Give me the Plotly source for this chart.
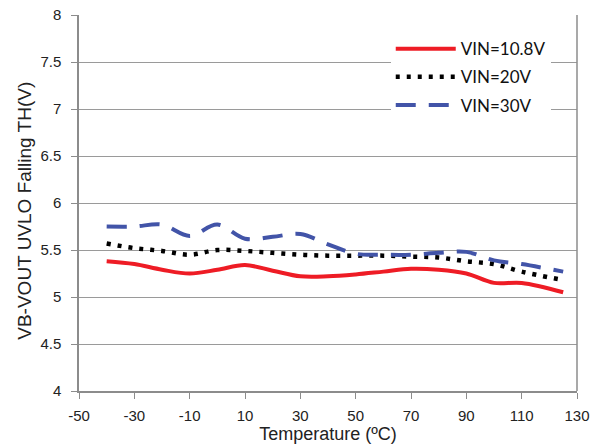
import plotly.graph_objects as go

temps = [-40, -30, -20, -10, 0, 10, 20, 30, 40, 50, 60, 70, 80, 90, 100, 110, 125]
vin_10_8 = [5.38, 5.35, 5.29, 5.25, 5.29, 5.34, 5.28, 5.22, 5.22, 5.24, 5.27, 5.30, 5.29, 5.25, 5.15, 5.15, 5.05]
vin_20 = [5.57, 5.52, 5.49, 5.45, 5.50, 5.49, 5.47, 5.45, 5.44, 5.44, 5.44, 5.43, 5.42, 5.38, 5.35, 5.27, 5.18]
vin_30 = [5.75, 5.75, 5.77, 5.65, 5.77, 5.62, 5.64, 5.67, 5.56, 5.46, 5.45, 5.45, 5.47, 5.48, 5.39, 5.35, 5.27]

x_ticks = list(range(-50, 131, 20))
x_labels = [str(v) for v in x_ticks]
y_ticks = [4, 4.5, 5, 5.5, 6, 6.5, 7, 7.5, 8]
y_labels = [str(v) for v in y_ticks]

fig = go.Figure()
fig.add_trace(go.Scatter(x=temps, y=vin_10_8, mode="lines", name="VIN=10.8V", legendgroup="a",
                         line=dict(color="#ee1c25", width=4, shape="spline")))
fig.add_trace(go.Scatter(x=temps, y=vin_20, mode="lines", name="VIN=20V", legendgroup="b",
                         line=dict(color="#000000", width=4.5, dash="4px,7px", shape="spline")))
fig.add_trace(go.Scatter(x=temps, y=vin_30, mode="lines", name="VIN=30V", legendgroup="c",
                         line=dict(color="#4254a8", width=4, dash="20px,13px", shape="spline")))

axis_font = dict(family="Liberation Sans, Arial", size=15, color="#222")
title_font = dict(family="Liberation Sans, Arial", size=18, color="#222")
fig.update_layout(
    width=597, height=447,
    margin=dict(l=79, r=20, t=15, b=56, autoexpand=False),
    paper_bgcolor="white", plot_bgcolor="white",
    showlegend=True,
    legend=dict(x=0.626, y=0.957, xanchor="left", yanchor="top",
                bgcolor="white", borderwidth=0,
                font=dict(family="Lato, Open Sans", size=17, color="#111"),
                itemwidth=60, tracegroupgap=3),
    xaxis=dict(range=[-50, 130], tickvals=x_ticks, ticktext=x_labels, showgrid=False,
               automargin=False,
               showline=True, linecolor="#8c8c8c", linewidth=1.5, mirror=False,
               ticks="outside", ticklen=6, tickcolor="#8c8c8c", ticklabelstandoff=4,
               tickfont=axis_font, zeroline=False,
               title=dict(text="Temperature (ºC)", font=title_font, standoff=0)),
    yaxis=dict(range=[4, 8], tickvals=y_ticks, ticktext=y_labels,
               automargin=False,
               showgrid=True, gridcolor="#9a9a9a", gridwidth=1,
               showline=True, linecolor="#8c8c8c", linewidth=1.5,
               ticks="outside", ticklen=6, tickcolor="#8c8c8c", ticklabelstandoff=7,
               tickfont=axis_font, zeroline=False),
    annotations=[dict(text="VB-VOUT UVLO Falling TH(V)", textangle=-90,
                      xref="paper", yref="paper", x=-0.11, y=0.48,
                      xanchor="center", yanchor="middle", showarrow=False,
                      font=dict(family="Liberation Sans, Arial", size=19, color="#222"))],
)
fig.add_shape(type="line", xref="paper", yref="paper", x0=1, x1=1, y0=0, y1=1,
              line=dict(color="#8c8c8c", width=1.5))
fig.write_html("out.html", config={"displayModeBar": False},
               post_script="document.body.style.margin='0';document.body.style.overflow='hidden';")
